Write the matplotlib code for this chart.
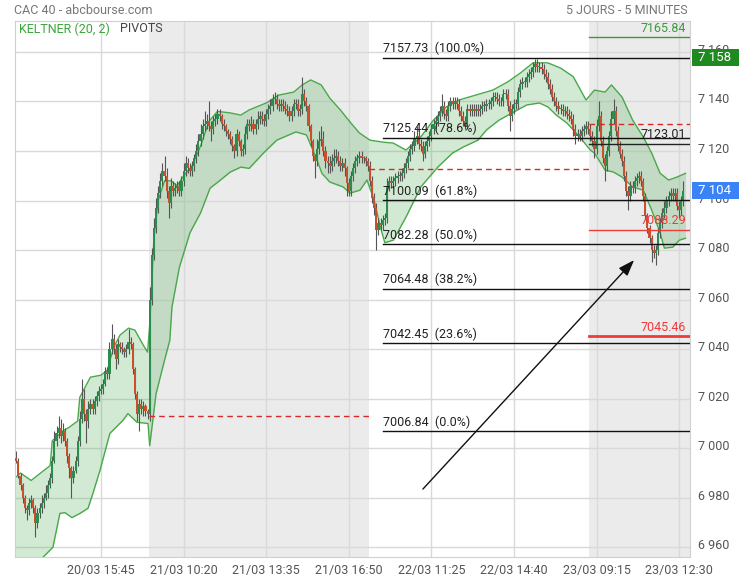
import numpy as np
import matplotlib
matplotlib.use("Agg")
from matplotlib import pyplot as plt
from matplotlib.patches import Rectangle
import matplotlib.transforms as mtransforms

plt.rcParams['font.family'] = ['Roboto', 'DejaVu Sans']

# --- CAC 40, 5 min candles, one list per session ---
first_open = 6996
close_d1 = [6995, 6989, 6985, 6980, 6976, 6975, 6978, 6979, 6976, 6970,
            6974, 6976, 6978, 6980, 6982, 6985, 6988, 6995, 7003, 7006,
            7008, 7005, 7007, 7003, 6997, 6992, 6988, 6991, 6995, 7003,
            7012, 7020, 7014, 7011, 7016, 7018, 7016, 7019, 7021, 7023,
            7024, 7026, 7031, 7030, 7040, 7044, 7040, 7036, 7042, 7041,
            7040, 7039, 7040, 7043, 7042, 7032, 7022, 7014, 7018, 7016,
            7017, 7015, 7014]
close_d2 = [7060, 7078, 7089, 7097, 7103, 7108, 7112, 7110, 7104, 7099,
            7106, 7104, 7105, 7106, 7104, 7108, 7112, 7115, 7113, 7112,
            7114, 7117, 7120, 7124, 7127, 7130, 7131, 7132, 7130, 7129,
            7132, 7133, 7135, 7134, 7131, 7130, 7128, 7127, 7125, 7122,
            7120, 7127, 7124, 7120, 7121, 7127, 7131, 7130, 7131, 7129,
            7131, 7133, 7134, 7133, 7132, 7135, 7137, 7138, 7141, 7141,
            7139, 7138, 7139, 7138, 7137, 7136, 7134, 7136, 7139, 7139,
            7136, 7137, 7143, 7140, 7138, 7130, 7124, 7118, 7116, 7121,
            7124, 7125, 7120, 7116, 7115, 7114, 7116, 7117, 7118, 7116,
            7114, 7115, 7113, 7107, 7104, 7110, 7113, 7116, 7117, 7118,
            7117, 7117, 7116, 7114]
close_d3 = [7108, 7101, 7097, 7088, 7091, 7090, 7092, 7093, 7106, 7108,
            7107, 7108, 7109, 7110, 7110, 7111, 7113, 7115, 7118, 7121,
            7122, 7125, 7126, 7123, 7122, 7119, 7122, 7124, 7126, 7129,
            7131, 7132, 7134, 7136, 7138, 7135, 7134, 7138, 7140, 7139,
            7140, 7139, 7136, 7134, 7132, 7131, 7137, 7136, 7137, 7136,
            7137, 7136, 7137, 7138, 7138, 7139, 7139, 7140, 7142, 7142,
            7141, 7140, 7140, 7143, 7143, 7138, 7134, 7137, 7139, 7139,
            7144, 7147, 7148, 7148, 7150, 7151, 7152, 7154, 7155, 7154,
            7154, 7153, 7151, 7150, 7147, 7145, 7142, 7140, 7138, 7137,
            7137, 7136, 7136, 7135, 7134, 7133, 7129, 7126, 7127, 7126,
            7128, 7129, 7130, 7129]
close_d4 = [7126, 7124, 7121, 7130, 7134, 7124, 7117, 7114, 7120, 7126,
            7133, 7136, 7128, 7122, 7119, 7116, 7110, 7104, 7102, 7106,
            7105, 7108, 7109, 7110, 7108, 7102, 7094, 7089, 7085, 7080,
            7079, 7080, 7087, 7091, 7095, 7097, 7100, 7102, 7103, 7102,
            7103, 7098, 7096, 7100, 7104]

# wick length above / below the body, in points
up_d1 = [3, 1, 1, 1, 1, 1, 2, 2, 1, 1, 2, 2, 3, 2, 3, 2, 2, 2, 4, 3,
         5, 4, 3, 1, 1, 1, 1, 2, 2, 2, 3, 8, 4, 2, 3, 2, 2, 2, 2, 2,
         2, 2, 2, 2, 3, 6, 2, 2, 2, 1, 2, 1, 2, 5, 2, 1, 1, 1, 2, 2,
         2, 1, 1]
dn_d1 = [1, 1, 2, 2, 2, 4, 2, 2, 2, 6, 2, 2, 2, 2, 1, 2, 1, 2, 1, 2,
         2, 3, 2, 2, 3, 4, 8, 2, 1, 2, 2, 2, 3, 9, 3, 2, 2, 2, 2, 2,
         1, 2, 1, 2, 2, 2, 2, 4, 2, 2, 2, 2, 2, 2, 2, 2, 2, 3, 7, 2,
         3, 2, 2]
up_d2 = [5, 3, 4, 4, 3, 3, 3, 6, 3, 2, 3, 2, 2, 2, 2, 2, 3, 3, 2, 2,
         2, 2, 3, 3, 4, 3, 5, 3, 8, 2, 2, 2, 2, 2, 1, 2, 1, 1, 1, 1,
         1, 2, 1, 1, 2, 3, 2, 2, 3, 2, 2, 3, 2, 2, 2, 2, 2, 3, 2, 3,
         2, 2, 2, 2, 2, 2, 2, 2, 2, 2, 2, 2, 7, 2, 2, 1, 1, 1, 1, 4,
         4, 5, 3, 2, 2, 3, 3, 4, 3, 2, 2, 2, 2, 1, 2, 2, 2, 2, 2, 2,
         2, 1, 1, 1]
dn_d2 = [3, 2, 2, 2, 2, 2, 2, 2, 3, 6, 2, 2, 2, 2, 2, 2, 2, 2, 2, 2,
         2, 2, 2, 2, 2, 2, 2, 2, 2, 5, 2, 2, 2, 2, 2, 2, 2, 2, 2, 2,
         3, 2, 2, 2, 2, 2, 2, 2, 2, 2, 2, 2, 2, 2, 2, 2, 2, 2, 2, 2,
         2, 2, 2, 2, 2, 2, 2, 2, 2, 2, 2, 2, 2, 2, 2, 2, 2, 2, 7, 2,
         2, 2, 2, 3, 4, 3, 2, 2, 2, 2, 2, 2, 3, 5, 2, 2, 2, 2, 2, 2,
         2, 2, 2, 2]
up_d3 = [2, 2, 2, 2, 2, 2, 2, 2, 3, 2, 2, 2, 2, 2, 2, 2, 2, 2, 2, 2,
         2, 3, 4, 2, 2, 2, 2, 2, 2, 2, 2, 2, 2, 2, 5, 2, 2, 2, 2, 2,
         2, 2, 2, 2, 2, 2, 2, 2, 2, 2, 2, 2, 2, 2, 2, 2, 2, 2, 2, 2,
         2, 2, 2, 2, 2, 2, 2, 2, 2, 2, 2, 2, 2, 2, 2, 2, 2, 2, 2, 2,
         2, 2, 2, 2, 2, 2, 2, 2, 2, 2, 2, 2, 2, 2, 2, 2, 2, 2, 2, 2,
         2, 2, 2, 2]
dn_d3 = [2, 2, 3, 8, 2, 2, 2, 2, 2, 2, 2, 2, 2, 2, 2, 2, 2, 2, 2, 2,
         2, 2, 2, 2, 2, 3, 2, 2, 2, 2, 2, 2, 2, 2, 2, 2, 2, 2, 2, 2,
         2, 2, 2, 2, 2, 2, 2, 2, 2, 2, 2, 2, 2, 2, 2, 2, 2, 2, 2, 2,
         2, 2, 2, 2, 2, 2, 6, 2, 2, 2, 2, 2, 2, 2, 2, 2, 2, 2, 2, 2,
         2, 2, 2, 2, 2, 2, 2, 2, 2, 2, 2, 2, 2, 2, 2, 2, 3, 3, 2, 2,
         2, 2, 2, 2]
up_d4 = [2, 2, 2, 3, 6, 2, 2, 2, 2, 2, 3, 5, 2, 2, 2, 2, 2, 2, 2, 2,
         2, 2, 2, 2, 2, 1, 1, 1, 1, 1, 2, 2, 2, 2, 2, 3, 2, 2, 2, 2,
         2, 2, 2, 2, 4]
dn_d4 = [2, 2, 4, 2, 2, 2, 2, 6, 2, 2, 2, 2, 2, 2, 2, 2, 2, 2, 6, 2,
         2, 2, 2, 2, 2, 2, 2, 2, 2, 5, 2, 5, 2, 2, 2, 2, 2, 2, 2, 2,
         2, 2, 3, 2, 2]

# Keltner (20, 2) bands: (candle index, value)
kc_up_idx = [-0.6, 2, 7, 13, 16, 17, 22, 25, 29, 30, 35, 40, 43, 46, 49, 53, 56, 60, 62,
             63, 65, 67, 70, 73, 76, 79, 83, 87, 91, 95, 101, 106, 110, 118, 124, 131, 135,
             139, 144, 148, 153, 158, 162, 167, 173, 178, 184, 191, 197, 203, 209, 217,
             225, 232, 238, 244, 251, 257, 263, 269, 273, 278, 281, 286, 291, 296, 300,
             304, 308, 312, 316]
kc_up_val = [6988, 6990, 6987, 6991, 6993, 7003, 7007, 7008.5, 7011, 7020.6, 7028.7,
             7029.5, 7031.5, 7040.8, 7045.7, 7048.5, 7047.7, 7041.6, 7038.8,
             7050, 7085, 7100, 7108, 7108, 7106, 7110, 7114, 7122, 7132, 7136, 7135.4,
             7134.5, 7136.6, 7139.4, 7142.6, 7143.8, 7146.7, 7148.7, 7146.7, 7141.4,
             7136.6, 7131.3, 7127.3, 7124.4, 7123.6, 7123.2, 7120.4, 7125.7, 7132.5,
             7137.8, 7140.6, 7142.6, 7144.6, 7147.9, 7151.5, 7155.6, 7155.6, 7153.5,
             7150, 7140.6, 7144.6, 7143.8, 7146.7, 7141.8, 7132.5, 7125.7, 7119.2,
             7111, 7108.3, 7109.5, 7111]
kc_lo_idx = [-0.6, 12.6, 17.3, 20.6, 23, 26.3, 30.1, 33.9, 36.2, 39.5, 44.2, 50.4,
             52.7, 57, 62.2,
             63, 66, 70, 72.5, 73.5, 77, 82, 87, 91.5, 96, 101, 106, 110, 116.5, 123,
             132, 137, 140, 142, 144.3, 148, 154.3, 157.6, 162.3, 165.6, 169, 172,
             174, 178, 184, 191, 199, 206, 211, 218, 222, 228, 235, 241, 247, 251,
             255, 260, 266, 271, 273, 278, 282, 286, 291, 296, 300, 304, 306, 310,
             313, 316]
kc_lo_val = [6935, 6956, 6960, 6973.7, 6974, 6972, 6973.7, 6975.8, 6981.8, 6991,
             7006, 7011.3, 7014, 7010.5, 7010,
             7001, 7022, 7035.5, 7043.6, 7057, 7073, 7087, 7095, 7105, 7108, 7111.5,
             7113.5, 7113, 7119, 7124.4, 7127.7, 7126.5, 7120.4, 7116.4, 7111,
             7107.5, 7105.5, 7103, 7104.2, 7108.3, 7100, 7089, 7083, 7084, 7093.3,
             7105.5, 7113.5, 7119.2, 7121.6, 7124.4, 7128.5, 7132.5, 7135.8, 7138.6,
             7139.4, 7137.8, 7134.5, 7131.3, 7125.7, 7120.4, 7119.2, 7112.3, 7111.5,
             7109.5, 7105.5, 7104.2, 7096.2, 7087, 7080.8, 7081.2, 7084, 7084.8]

# Fibonacci retracement
fib_vals = [7157.73, 7125.44, 7100.09, 7082.28, 7064.48, 7042.45, 7006.84]
fib_pct = ['100.0%', '78.6%', '61.8%', '50.0%', '38.2%', '23.6%', '0.0%']

# pivots of the last session
piv_vals = [7165.84, 7123.01, 7088.29, 7045.46]
piv_cols = ['#3c9a3c', '#222222', '#ee3b3b', '#ee3b3b']
piv_lw = [1.0, 1.0, 1.0, 2.0]
# previous-day pivot (dashed) per session
dash_vals = [7013.2, 7112.7, 7130.8]
dash_span = [(62.5, 166.5), (166.5, 270.5), (270.5, 318.1)]

tick_pos = [40, 79, 118, 157, 196, 235, 274, 313]
tick_lab = ['20/03 15:45', '21/03 10:20', '21/03 13:35', '21/03 16:50',
            '22/03 11:25', '22/03 14:40', '23/03 09:15', '23/03 12:30']

# ---- build OHLC ----
close = np.array(close_d1 + close_d2 + close_d3 + close_d4, dtype=float)
opn = np.concatenate([[first_open], close[:-1]])
upw = np.array(up_d1 + up_d2 + up_d3 + up_d4, dtype=float)
dnw = np.array(dn_d1 + dn_d2 + dn_d3 + dn_d4, dtype=float)
top = np.maximum(opn, close)
bot = np.minimum(opn, close)
high = top + upw
low = bot - dnw
idx = np.arange(len(close))

fig = plt.figure(figsize=(7.39, 5.80), dpi=100)
ax = fig.add_axes([15 / 739, 23 / 580, 675 / 739, 536 / 580])
ax.set_xlim(-0.6, 318.1)
ax.set_ylim(6956.1, 7172.5)

# gray sessions
for a, b in [(62.5, 166.5), (270.5, 318.1)]:
    ax.axvspan(a, b, color='#ebebeb', lw=0, zorder=0)

ax.set_yticks(np.arange(6960, 7161, 20))
ax.set_xticks(tick_pos)
ax.set_xticklabels(tick_lab)
ax.grid(True, color='#d9d9d9', lw=1, zorder=0.5)
ax.set_axisbelow(True)
ax.yaxis.tick_right()
ax.yaxis.set_major_formatter(plt.FuncFormatter(lambda v, p: f"{int(v):,}".replace(",", " ")))
ax.tick_params(axis='y', length=0, pad=6, labelsize=9, labelcolor='#555555')
ax.tick_params(axis='x', length=0, pad=5, labelsize=9, labelcolor='#555555')
for s in ax.spines.values():
    s.set_color('#d0d0d0')
offset = mtransforms.ScaledTranslation(0, 3 / 100, fig.dpi_scale_trans)
for lab in ax.get_yticklabels():
    lab.set_transform(lab.get_transform() + offset)

# Keltner channel
kc_x = np.union1d(kc_up_idx, kc_lo_idx)
ax.fill_between(kc_x, np.interp(kc_x, kc_up_idx, kc_up_val),
                np.interp(kc_x, kc_lo_idx, kc_lo_val),
                color='#4caf50', alpha=0.25, lw=0, zorder=1)
ax.plot(kc_up_idx, kc_up_val, color='#4aa84a', lw=1, zorder=1.2)
ax.plot(kc_lo_idx, kc_lo_val, color='#4aa84a', lw=1, zorder=1.2)

# candles
cols = np.where(close >= opn, '#2a8c4f', '#c8502f')
ax.vlines(idx, low, high, color='#555555', lw=0.8, zorder=2)
ax.bar(idx, np.maximum(top - bot, 0.4), bottom=bot, width=1.0, color=cols, lw=0, zorder=3)

# previous-day pivots, dashed
for v, (a, b) in zip(dash_vals, dash_span):
    ax.plot([a, b], [v, v], color='#d42a2a', lw=1, ls=(0, (4, 3)), zorder=4)

# fibonacci lines
fib_x0 = 173.1
for v, p in zip(fib_vals, fib_pct):
    ax.plot([fib_x0, 318.1], [v, v], color='#111111', lw=1, zorder=4)
    ax.annotate(f"{v:.2f}  ({p})", (fib_x0, v), xytext=(0, 1.5), textcoords='offset points',
                ha='left', va='bottom', fontsize=9, color='#222222', zorder=5)

# pivots
for v, c, w in zip(piv_vals, piv_cols, piv_lw):
    ax.plot([270.5, 318.1], [v, v], color=c, lw=w, zorder=4)
    ax.annotate(f"{v:.2f}", (316.2, v), xytext=(0, 1.5), textcoords='offset points',
                ha='right', va='bottom', fontsize=9, color=c, zorder=5)

# arrow
ax.annotate('', xy=(292.6, 7076.8), xytext=(191.1, 6982.7),
            arrowprops=dict(arrowstyle='-|>,head_length=0.7,head_width=0.25',
                            color='#111111', lw=1, mutation_scale=14),
            zorder=6)

# right side price boxes (they sit over the axis labels, as on the site)
trans = mtransforms.blended_transform_factory(ax.transAxes, ax.transData)
for v, txt, c in [(7157.73, '7 158', '#1f8a1f'), (close[-1], '7 104', '#3b82f6')]:
    ax.add_patch(Rectangle((1 + 2 / 675, v - 3.3), 49 / 675, 6.6, transform=trans,
                           facecolor=c, edgecolor='none', clip_on=False, zorder=10))
    ax.text(1 + 8 / 675, v, txt, transform=trans, ha='left', va='center',
            fontsize=9.5, color='white', zorder=11, clip_on=False)

# header texts
fig.text(14 / 739, 1 - 10 / 580, 'CAC 40 - abcbourse.com', ha='left', va='center',
         fontsize=9, color='#777777')
fig.text(688 / 739, 1 - 10 / 580, '5 JOURS - 5 MINUTES', ha='right', va='center',
         fontsize=9, color='#777777')
ax.text(4 / 675, 1 - 8 / 536, 'KELTNER (20, 2)', transform=ax.transAxes, ha='left',
        va='center', fontsize=9, color='#3aa63a', zorder=7)
ax.text(105 / 675, 1 - 8 / 536, 'PIVOTS', transform=ax.transAxes, ha='left',
        va='center', fontsize=9, color='#444444', zorder=7)

plt.savefig("out.png", dpi=100)
